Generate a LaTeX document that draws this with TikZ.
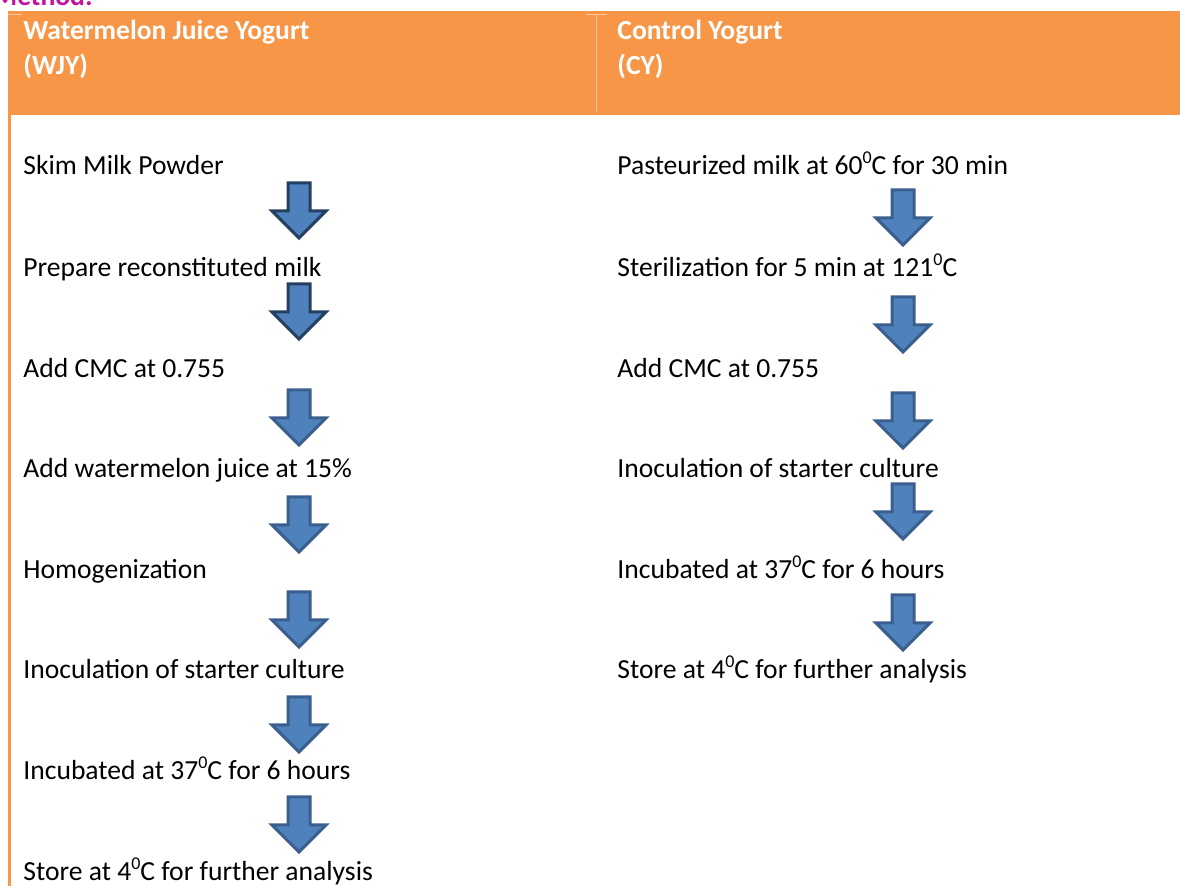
\documentclass[tikz,border=0pt]{standalone}
\usepackage{fontspec}
\setmainfont{Carlito}
\definecolor{headorange}{HTML}{F79646}
\definecolor{arrowfill}{HTML}{4F81BD}
\definecolor{arrowedge}{HTML}{3A5F8E}
\definecolor{arrowdark}{HTML}{243F60}
\definecolor{methodpink}{HTML}{C3139E}
\newcommand{\supzero}{\raisebox{0.85ex}{\fontsize{9}{9}\selectfont 0}}
\begin{document}
\begin{tikzpicture}[
    x=0.5pt, y=-0.5pt,
    step text/.style={anchor=base west, inner sep=0pt, font=\fontsize{13.8}{16}\selectfont},
    head text/.style={anchor=base west, inner sep=0pt, text=white, font=\fontsize{13.8}{16}\selectfont\bfseries},
    downarr/.pic={\draw[line width=1.5pt, draw=#1, fill=arrowfill, line join=miter]
        (-11,0) -- (11,0) -- (11,28) -- (27,28) -- (0,55) -- (-27,28) -- (-11,28) -- cycle;},
    pics/downarr/.default=arrowedge
    ]
    \useasboundingbox (0,0) rectangle (1180,886);
    % header band
    \fill[headorange] (8,11) rectangle (1180,115);
    \draw[headorange!55!white, line width=0.4pt] (596,14) -- (596,112);
    \draw[headorange!55!white, line width=0.4pt] (586,14) -- (607,14);
    \draw[headorange!55!white, line width=0.4pt] (8,14) -- (22,14);
    \draw[headorange, line width=1.5pt] (9.5,115) -- (9.5,886);
    \node[anchor=base east, inner sep=0pt, text=methodpink, font=\fontsize{13.8}{16}\selectfont\bfseries] (method) at (93,6) {Method:};
    % column heads
    \node[head text] (wjyhead) at (23,40) {Watermelon Juice Yogurt};
    \node[head text] (wjyabbr) at (23,75) {(WJY)};
    \node[head text] (cyhead) at (617,40) {Control Yogurt};
    \node[head text] (cyabbr) at (617,75) {(CY)};
    % WJY steps
    \node[step text] (w1) at (23,175) {Skim Milk Powder};
    \node[step text] (w2) at (23,277) {Prepare reconstituted milk};
    \node[step text] (w3) at (23,378) {Add CMC at 0.755};
    \node[step text] (w4) at (23,478) {Add watermelon juice at 15\%};
    \node[step text] (w5) at (23,579) {Homogenization};
    \node[step text] (w6) at (23,679) {Inoculation of starter culture};
    \node[step text] (w7) at (23,780) {Incubated at 37\supzero C for 6 hours};
    \node[step text] (w8) at (23,881) {Store at 4\supzero C for further analysis};
    % CY steps
    \node[step text] (c1) at (617,175) {Pasteurized milk at 60\supzero C for 30 min};
    \node[step text] (c2) at (617,277) {Sterilization for 5 min at 121\supzero C};
    \node[step text] (c3) at (617,378) {Add CMC at 0.755};
    \node[step text] (c4) at (617,478) {Inoculation of starter culture};
    \node[step text] (c5) at (617,579) {Incubated at 37\supzero C for 6 hours};
    \node[step text] (c6) at (617,679) {Store at 4\supzero C for further analysis};
    % block arrows
    \pic at (299,183) {downarr=arrowdark};
    \pic at (299,284) {downarr=arrowdark};
    \foreach \ytop in {390,497,592,697,797}
      \pic at (299,\ytop) {downarr};
    \foreach \ytop in {190,297,393,484,595}
      \pic at (903,\ytop) {downarr};
\end{tikzpicture}
\end{document}
